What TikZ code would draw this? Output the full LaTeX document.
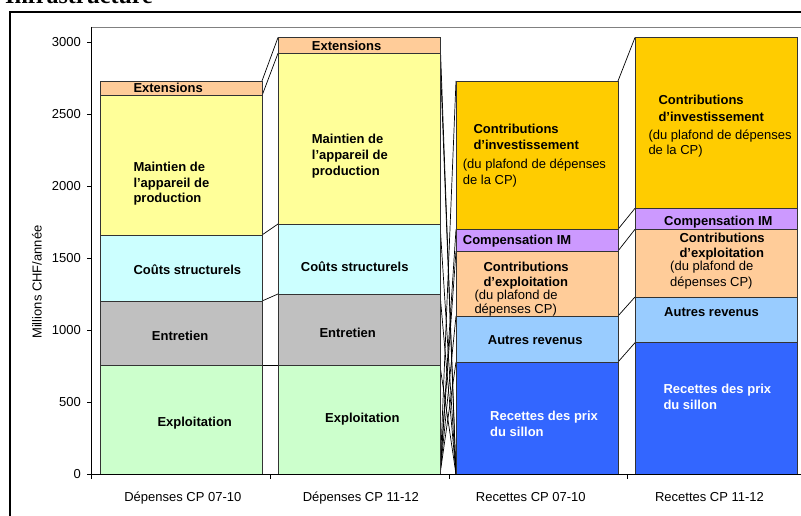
\documentclass[tikz,border=0pt]{standalone}
\usepackage{fontspec}
\setmainfont{Liberation Sans}
\newfontfamily\titlefont{Liberation Serif}
\definecolor{cExpl}{HTML}{CCFFCC}
\definecolor{cEntr}{HTML}{C0C0C0}
\definecolor{cCout}{HTML}{CCFFFF}
\definecolor{cMain}{HTML}{FFFF99}
\definecolor{cExt}{HTML}{FFCC99}
\definecolor{cRec}{HTML}{3366FF}
\definecolor{cAut}{HTML}{99CCFF}
\definecolor{cCex}{HTML}{FFCC99}
\definecolor{cCim}{HTML}{CC99FF}
\definecolor{cCin}{HTML}{FFCC00}
\definecolor{edge}{HTML}{333333}
\tikzset{
  seg/.style={draw=edge, line width=0.8bp},
  sline/.style={draw=black, line width=0.7bp},
  lbl/.style={font=\fontsize{13bp}{15.6bp}\selectfont\bfseries, anchor=base west, inner sep=0pt},
  sub/.style={font=\fontsize{13bp}{15.6bp}\selectfont, anchor=base west, inner sep=0pt},
  tick/.style={font=\fontsize{13bp}{15.6bp}\selectfont, anchor=east, inner sep=0pt},
  cat/.style={font=\fontsize{13bp}{15.6bp}\selectfont, anchor=base, inner sep=0pt},
  axis/.style={draw=black, line width=0.8bp},
}
\begin{document}
\begin{tikzpicture}[x=1bp,y=-1bp]
\useasboundingbox (0,0) rectangle (801,516);
% title (cut off at top)
\node[font=\titlefont\fontsize{24bp}{28bp}\selectfont\bfseries, anchor=base west, inner sep=0pt] (title) at (5,4) {Infrastructure};
% chart frame
\draw[line width=1.2bp] (802,12) -- (10,12) -- (10,517);
% plot area top
\draw[draw=black!50, line width=0.8bp] (91,27) -- (802,27);

% ---- corner coordinates
% bar 1
\coordinate (a0) at (262,474.3); \coordinate (a1) at (262,365.7); \coordinate (a2) at (262,301);
\coordinate (a3) at (262,235); \coordinate (a4) at (262,95.7); \coordinate (a5) at (262,81);
% bar 2 left / right
\coordinate (b0) at (278,474.3); \coordinate (b1) at (278,365.7); \coordinate (b2) at (278,294);
\coordinate (b3) at (278,224); \coordinate (b4) at (278,53.3); \coordinate (b5) at (278,37.5);
\coordinate (c0) at (440,474.3); \coordinate (c1) at (440,365.7); \coordinate (c2) at (440,294);
\coordinate (c3) at (440,224); \coordinate (c4) at (440,53.3); \coordinate (c5) at (440,37.5);
% bar 3 left / right
\coordinate (d0) at (456,474.3); \coordinate (d1) at (456,362); \coordinate (d2) at (456,316);
\coordinate (d3) at (456,251); \coordinate (d4) at (456,229.3); \coordinate (d5) at (456,81);
\coordinate (e0) at (618,474.3); \coordinate (e1) at (618,362); \coordinate (e2) at (618,316);
\coordinate (e3) at (618,251); \coordinate (e4) at (618,229.3); \coordinate (e5) at (618,81);
% bar 4 left
\coordinate (f0) at (635,474.3); \coordinate (f1) at (635,342.7); \coordinate (f2) at (635,297);
\coordinate (f3) at (635,229.3); \coordinate (f4) at (635,208.3); \coordinate (f5) at (635,37.5);

% ---- series lines
\foreach \i in {1,...,5} {
  \draw[sline] (a\i) -- (b\i);
  \draw[sline] (c\i) -- (d0);
  \draw[sline] (c0) -- (d\i);
  \draw[sline] (e\i) -- (f\i);
}

% ---- bars
% bar 1
\draw[seg, fill=cExpl] (100,474.3) rectangle (a1);
\draw[seg, fill=cEntr] (100,365.7) rectangle (a2);
\draw[seg, fill=cCout] (100,301) rectangle (a3);
\draw[seg, fill=cMain] (100,235) rectangle (a4);
\draw[seg, fill=cExt] (100,95.7) rectangle (a5);
% bar 2
\draw[seg, fill=cExpl] (b0) rectangle (c1);
\draw[seg, fill=cEntr] (b1) rectangle (c2);
\draw[seg, fill=cCout] (b2) rectangle (c3);
\draw[seg, fill=cMain] (b3) rectangle (c4);
\draw[seg, fill=cExt] (b4) rectangle (c5);
% bar 3
\draw[seg, fill=cRec] (d0) rectangle (e1);
\draw[seg, fill=cAut] (d1) rectangle (e2);
\draw[seg, fill=cCex] (d2) rectangle (e3);
\draw[seg, fill=cCim] (d3) rectangle (e4);
\draw[seg, fill=cCin] (d4) rectangle (e5);
% bar 4
\draw[seg, fill=cRec] (f0) rectangle (797,342.7);
\draw[seg, fill=cAut] (f1) rectangle (797,297);
\draw[seg, fill=cCex] (f2) rectangle (797,229.3);
\draw[seg, fill=cCim] (f3) rectangle (797,208.3);
\draw[seg, fill=cCin] (f4) rectangle (797,37.5);

% ---- axes
\draw[axis] (91,27) -- (91,474.3);
\foreach \k/\v in {0/0,1/500,2/1000,3/1500,4/2000,5/2500,6/3000} {
  \draw[axis] (87,474.3-72*\k) -- (91,474.3-72*\k);
  \node[tick] (t\k) at (81,474.3-72*\k) {\v};
}
\draw[axis] (91,474.3) -- (802,474.3);
\foreach \x in {91.5,270,449,627.5} { \draw[axis] (\x,474.3) -- (\x,478.5); }
\node[font=\fontsize{13bp}{15.6bp}\selectfont, rotate=90, inner sep=0pt] (ylab) at (37,282) {Millions CHF/année};

% category labels
\node[cat] (k1) at (182.8,501.7) {Dépenses CP 07-10};
\node[cat] (k2) at (360.8,501.7) {Dépenses CP 11-12};
\node[cat] (k3) at (530.8,501.7) {Recettes CP 07-10};
\node[cat] (k4) at (709.5,501.7) {Recettes CP 11-12};

% ---- bar 1 labels
\node[lbl] (l1e) at (133.3,93) {Extensions};
\node[lbl] (l1m1) at (133.3,171.7) {Maintien de};
\node[lbl] (l1m2) at (133.3,187.3) {l’appareil de};
\node[lbl] (l1m3) at (133.3,202.7) {production};
\node[lbl] (l1c) at (133.3,274.7) {Coûts structurels};
\node[lbl] (l1n) at (151.7,340) {Entretien};
\node[lbl] (l1x) at (157.3,426) {Exploitation};
% ---- bar 2 labels
\node[lbl] (l2e) at (311.7,51) {Extensions};
\node[lbl] (l2m1) at (311.7,144) {Maintien de};
\node[lbl] (l2m2) at (311.7,159.7) {l’appareil de};
\node[lbl] (l2m3) at (311.7,175.3) {production};
\node[lbl] (l2c) at (300.7,271.7) {Coûts structurels};
\node[lbl] (l2n) at (319.3,337.3) {Entretien};
\node[lbl] (l2x) at (325,422.7) {Exploitation};
% ---- bar 3 labels
\node[lbl] (l3i1) at (473.3,133.3) {Contributions};
\node[lbl] (l3i2) at (473.3,150) {d’investissement};
\node[sub] (l3i3) at (462.7,168.3) {(du plafond de dépenses};
\node[sub] (l3i4) at (462.7,185) {de la CP)};
\node[lbl] (l3p) at (462.7,245) {Compensation IM};
\node[lbl] (l3o1) at (483.3,271.7) {Contributions};
\node[lbl] (l3o2) at (483.3,286.7) {d’exploitation};
\node[sub] (l3o3) at (474.3,299.3) {(du plafond de};
\node[sub] (l3o4) at (474.3,314) {dépenses CP)};
\node[lbl] (l3a) at (487.7,344.3) {Autres revenus};
\node[lbl, text=white] (l3r1) at (490,420.7) {Recettes des prix};
\node[lbl, text=white] (l3r2) at (490,436.7) {du sillon};
% ---- bar 4 labels
\node[lbl] (l4i1) at (658.3,105) {Contributions};
\node[lbl] (l4i2) at (658.3,121.7) {d’investissement};
\node[sub] (l4i3) at (648.3,140) {(du plafond de dépenses};
\node[sub] (l4i4) at (648.3,155) {de la CP)};
\node[lbl] (l4p) at (664,226) {Compensation IM};
\node[lbl] (l4o1) at (679.3,242.3) {Contributions};
\node[lbl] (l4o2) at (679.3,257.3) {d’exploitation};
\node[sub] (l4o3) at (670,270.7) {(du plafond de};
\node[sub] (l4o4) at (670,286.7) {dépenses CP)};
\node[lbl] (l4a) at (664,317) {Autres revenus};
\node[lbl, text=white] (l4r1) at (663.3,393.3) {Recettes des prix};
\node[lbl, text=white] (l4r2) at (663.3,409) {du sillon};
\end{tikzpicture}
\end{document}
